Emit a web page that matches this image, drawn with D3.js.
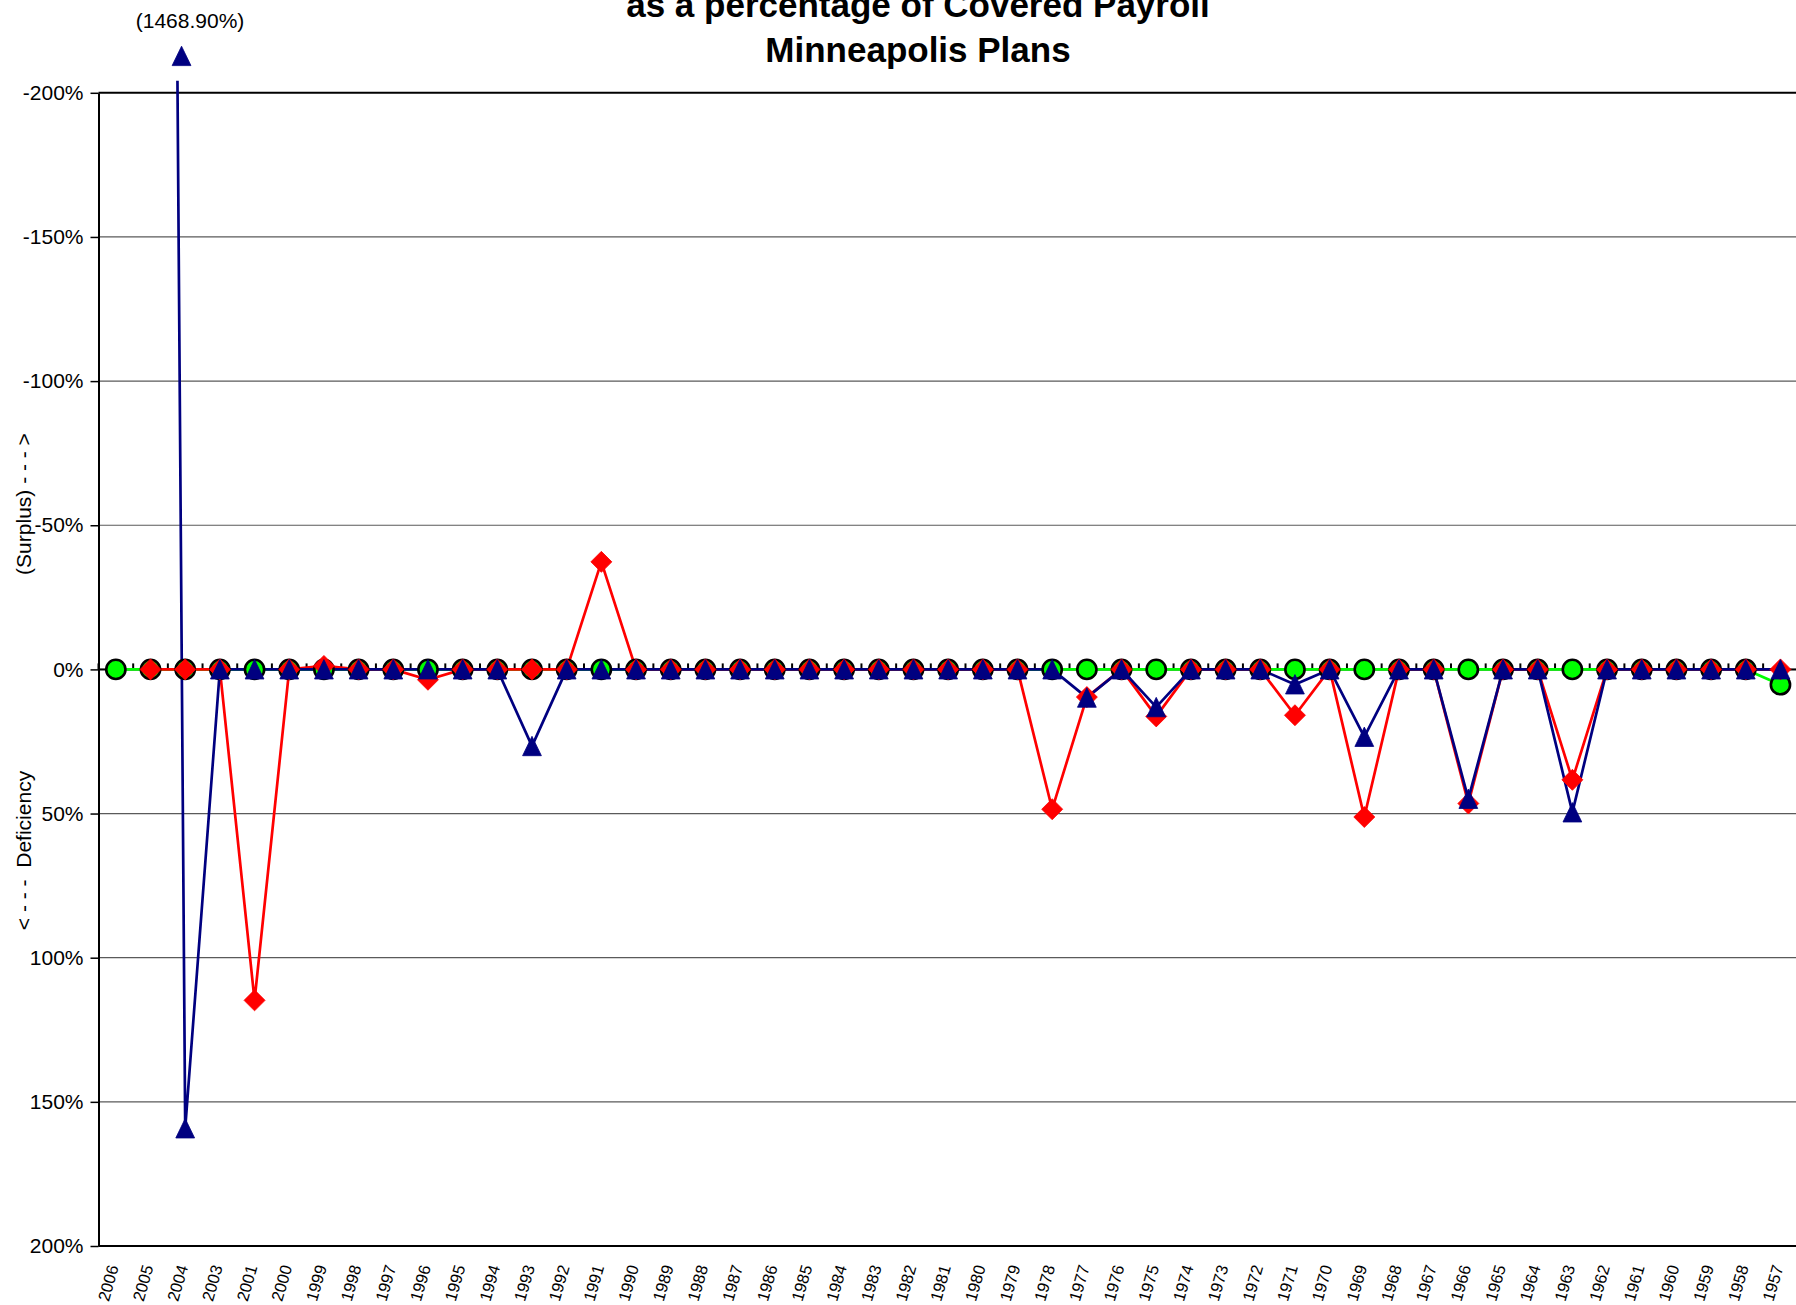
<!DOCTYPE html>
<html>
<head>
<meta charset="utf-8">
<script src="https://cdn.jsdelivr.net/npm/d3@7"></script>
<style>
  html, body { margin: 0; padding: 0; background: #fff; }
  svg { display: block; font-family: Arial, "Liberation Sans", sans-serif; }
</style>
</head>
<body>
<svg id="chart" width="1796" height="1305"></svg>
<script>
// Valuation years, newest first (no 2002 valuation)
const years = ["2006","2005","2004","2003","2001","2000",
  "1999","1998","1997","1996","1995","1994","1993","1992","1991","1990",
  "1989","1988","1987","1986","1985","1984","1983","1982","1981","1980",
  "1979","1978","1977","1976","1975","1974","1973","1972","1971","1970",
  "1969","1968","1967","1966","1965","1964","1963","1962","1961","1960",
  "1959","1958","1957"];

// Deficiency (+) / surplus (-) as % of covered payroll
const greenValues = [0,0,0,0,0,0, 0,0,0,0,0,0,0,0,0,0, 0,0,0,0,0,0,0,0,0,0,
  0,0,0,0,0,0,0,0,0,0, 0,0,0,0,0,0,0,0,0,0, 0,0,5.3];
const redValues = [null,0,0,0,114.8,0, -1.2,0,0,3.6,0,0,0,0,-37.3,0,
  0,0,0,0,0,0,0,0,0,0, 0,48.5,9.6,0,16.3,0,0,0,15.9,0,
  51.2,0,0,46.5,0,0,38.3,0,0,0, 0,0,0];
const blueValues = [null,-1468.9,159.2,0,0,0, 0,0,0,0,0,0,26.6,0,0,0,
  0,0,0,0,0,0,0,0,0,0, 0,0,9.8,0,13.1,0,0,0,5.2,0,
  23.4,0,0,44.9,0,0,49.6,0,0,0, 0,0,0];

const yTicks = [-200,-150,-100,-50,0,50,100,150,200];
const titleLines = ["as a percentage of Covered Payroll", "Minneapolis Plans"];
const axisTitleUpper = "(Surplus) - - - >";
const axisTitleLower = "< - - -  Deficiency";

const W = 1796, H = 1305;
const plot = { left: 98.5, right: 1797.8, top: 92.8, bottom: 1246 };

const svg = d3.select("#chart");

const x = d3.scalePoint().domain(years).range([plot.left, plot.right]).padding(0.5);
const y = d3.scaleLinear().domain([-200, 200]).range([plot.top, plot.bottom]);
const step = x.step();

// ---- gridlines and plot frame ----
svg.append("g").selectAll("line")
  .data(yTicks.filter(t => t !== -200 && t !== 200))
  .join("line")
  .attr("x1", plot.left).attr("x2", W)
  .attr("y1", d => y(d)).attr("y2", d => y(d))
  .attr("stroke", "#5a5a5a").attr("stroke-width", 1.2);

svg.append("g").selectAll("line")
  .data([-200, 200])
  .join("line")
  .attr("x1", plot.left).attr("x2", W)
  .attr("y1", d => y(d)).attr("y2", d => y(d))
  .attr("stroke", "#000").attr("stroke-width", 2);

// ---- value axis ----
const yAxis = svg.append("g")
  .attr("transform", `translate(${plot.left},0)`)
  .call(d3.axisLeft(y).tickValues(yTicks).tickFormat(d => d + "%")
    .tickSize(8).tickSizeOuter(0).tickPadding(7));
yAxis.select(".domain").attr("stroke", "#000").attr("stroke-width", 2);
yAxis.selectAll(".tick line").attr("stroke", "#000").attr("stroke-width", 1.5);
yAxis.selectAll(".tick text")
  .attr("font-size", 21).attr("fill", "#000")
  .attr("font-family", "Arial, 'Liberation Sans', sans-serif");

// ---- category axis crossing at 0% ----
const y0 = y(0);
svg.append("line")
  .attr("x1", plot.left).attr("x2", W)
  .attr("y1", y0).attr("y2", y0)
  .attr("stroke", "#000").attr("stroke-width", 2);
svg.append("g").selectAll("line")
  .data(d3.range(years.length + 1))
  .join("line")
  .attr("x1", k => plot.left + k * step).attr("x2", k => plot.left + k * step)
  .attr("y1", y0 - 6).attr("y2", y0)
  .attr("stroke", "#000").attr("stroke-width", 2);

// category labels along the bottom edge
svg.append("g").selectAll("text")
  .data(years)
  .join("text")
  .attr("transform", d => `translate(${x(d) + 3},${plot.bottom + 21}) rotate(-74)`)
  .attr("text-anchor", "end")
  .attr("font-size", 16.5)
  .attr("fill", "#000")
  .text(d => d);

// ---- series ----
const series = [
  { values: greenValues, color: "#00ff00", marker: "circle" },
  { values: redValues,   color: "#ff0000", marker: "diamond" },
  { values: blueValues,  color: "#000080", marker: "triangle" }
];

svg.append("defs").append("clipPath").attr("id", "plotClip")
  .append("rect")
  .attr("x", plot.left).attr("y", plot.top - 12)
  .attr("width", W - plot.left).attr("height", plot.bottom - plot.top + 12);

const line = d3.line()
  .defined(d => d.v !== null)
  .x(d => x(d.year))
  .y(d => y(d.v));

const linesG = svg.append("g").attr("clip-path", "url(#plotClip)");
series.forEach(s => {
  const pts = years.map((yr, i) => ({ year: yr, v: s.values[i] }));
  linesG.append("path")
    .datum(pts)
    .attr("d", line)
    .attr("fill", "none")
    .attr("stroke", s.color)
    .attr("stroke-width", 2.7)
    .attr("stroke-linejoin", "round");
});

const markerPaths = {
  diamond: "M0,-10.5L10.5,0L0,10.5L-10.5,0Z",
  triangle: "M0,-9.8L9.4,9.6L-9.4,9.6Z"
};
const marksG = svg.append("g").attr("clip-path", "url(#plotClip)");
series.forEach(s => {
  const pts = years.map((yr, i) => ({ year: yr, v: s.values[i] }))
    .filter(d => d.v !== null && d.v >= y.domain()[0] && d.v <= y.domain()[1]);
  if (s.marker === "circle") {
    marksG.append("g").selectAll("circle")
      .data(pts).join("circle")
      .attr("cx", d => x(d.year)).attr("cy", d => y(d.v))
      .attr("r", 9.6)
      .attr("fill", s.color).attr("stroke", "#000").attr("stroke-width", 2.6);
  } else {
    marksG.append("g").selectAll("path")
      .data(pts).join("path")
      .attr("transform", d => `translate(${x(d.year)},${y(d.v)})`)
      .attr("d", markerPaths[s.marker])
      .attr("fill", s.color).attr("stroke", s.color).attr("stroke-width", 0.8);
  }
});

// ---- off-scale point: arrow marker with its value above the plot ----
blueValues.forEach((v, i) => {
  if (v === null || v >= y.domain()[0]) return;
  const next = blueValues[i + 1];
  const xa = x(years[i]), xb = x(years[i + 1]);
  const ya = y(v), yb = y(next);
  const t = (y(y.domain()[0]) - ya) / (yb - ya);
  const xEdge = xa + t * (xb - xa) + 4;
  svg.append("path")
    .attr("transform", `translate(${xEdge},56)`)
    .attr("d", markerPaths.triangle)
    .attr("fill", "#000080").attr("stroke", "#000080").attr("stroke-width", 0.8);
  svg.append("text")
    .attr("x", xEdge + 8.5).attr("y", 28)
    .attr("text-anchor", "middle")
    .attr("font-size", 21)
    .attr("fill", "#000")
    .text(`(${Math.abs(v).toFixed(2)}%)`);
});

// ---- axis title ----
svg.append("text")
  .attr("transform", `translate(23,${(433 + 575) / 2}) rotate(-90)`)
  .attr("text-anchor", "middle").attr("dominant-baseline", "central")
  .attr("font-size", 21).attr("fill", "#000")
  .style("white-space", "pre")
  .text(axisTitleUpper);
svg.append("text")
  .attr("transform", `translate(23,${(767 + 934) / 2}) rotate(-90)`)
  .attr("text-anchor", "middle").attr("dominant-baseline", "central")
  .attr("font-size", 21).attr("fill", "#000")
  .style("white-space", "pre")
  .text(axisTitleLower);

// ---- chart title ----
svg.append("g").selectAll("text")
  .data(titleLines)
  .join("text")
  .attr("x", 918)
  .attr("y", (d, i) => 16.5 + i * 45)
  .attr("text-anchor", "middle")
  .attr("font-size", 35).attr("font-weight", "bold")
  .attr("fill", "#000")
  .text(d => d);
</script>
</body>
</html>
